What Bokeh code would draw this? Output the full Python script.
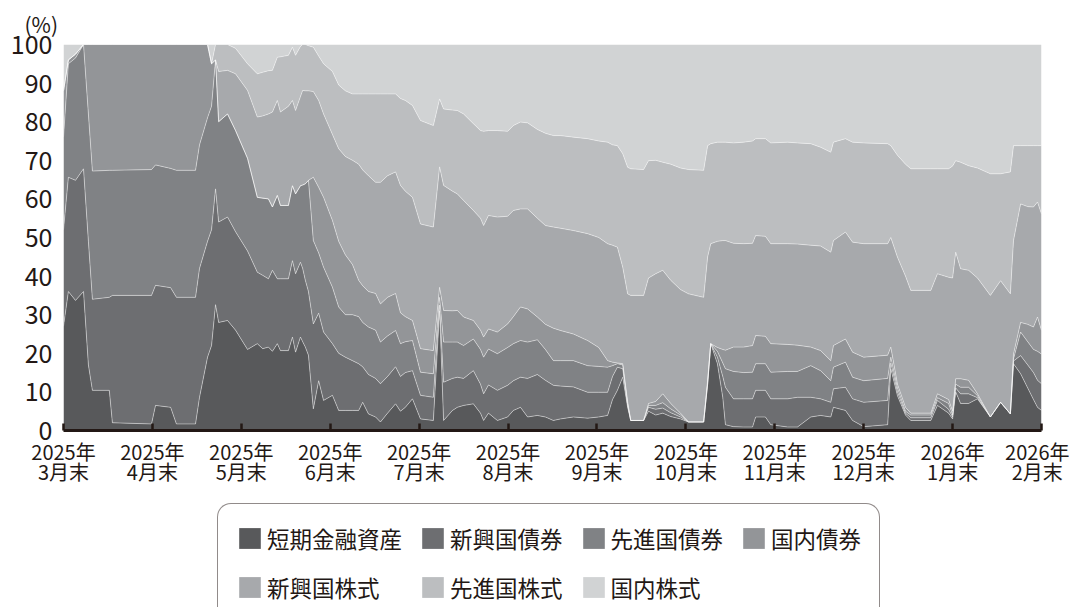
from bokeh.plotting import figure
from bokeh.models import ColumnDataSource, Range1d, FixedTicker, Legend, LegendItem
from bokeh.transform import stack
from bokeh.embed import file_html
from bokeh.resources import INLINE

# x position: trading-day style index, 20 units per month (0 = 2025年3月末, 220 = 2026年2月末)
pos = [0, 1.1, 2.7, 4.5, 5.6, 6.5, 10.3, 11.0, 19.8, 20.7,
       24.1, 25.4, 29.7, 30.6, 32.4, 33.3, 34.2, 34.9, 36.9, 38.7,
       41.4, 43.6, 44.8, 46.1, 47.0, 48.1, 48.8, 50.6, 51.5, 52.2,
       53.3, 53.8, 54.4, 55.1, 56.2, 57.4, 58.5, 60.5, 61.9, 63.4,
       65.0, 66.4, 67.3, 68.6, 70.2, 71.3, 72.9, 74.7, 75.8, 76.9,
       78.5, 80.3, 83.2, 84.6, 85.5, 87.5, 88.6, 90.0, 92.2, 93.8,
       94.5, 95.6, 97.6, 99.9, 101.2, 102.8, 104.4, 106.6, 108.4, 110.2,
       111.8, 114.7, 117.9, 120.4, 122.4, 123.5, 124.6, 125.8, 126.9, 127.6,
       130.5, 131.6, 133.2, 134.8, 136.6, 138.8, 140.6, 144.0, 144.9, 145.6,
       147.1, 148.3, 148.9, 150.7, 153.0, 155.0, 155.7, 157.9, 159.1, 162.9,
       165.1, 168.1, 170.3, 172.6, 173.2, 175.9, 177.5, 180.0, 185.4, 186.1,
       187.6, 189.4, 190.6, 195.1, 196.6, 199.1, 200.0, 200.7, 201.8, 203.6,
       205.6, 208.5, 210.8, 213.0, 213.7, 215.3, 216.9, 218.2, 219.1, 220.0]

short_term = [27, 36, 33.7, 36, 17, 10.4, 10.4, 2, 1.7, 6.5,
              6, 1.7, 1.7, 8.6, 19, 22, 32.6, 28, 28.5, 26,
              21, 22.5, 21.2, 21.6, 20.5, 22.5, 20.7, 20.7, 24.2, 20.3,
              24.2, 23, 21.6, 19.5, 5.6, 12.9, 7.8, 9.1, 5.2, 5.2,
              5.2, 5.2, 7.3, 4.3, 3.5, 2.2, 4.5, 6.9, 5, 6,
              8.2, 3, 2.6, 31, 2.6, 5.2, 6, 6.5, 6.9, 4.5,
              2.6, 4.5, 2.6, 3.5, 5.2, 6, 3.5, 3.9, 3.5, 2.6,
              3, 3.5, 3.2, 3.5, 3.9, 8, 10.4, 13.8, 6, 2.6,
              2.6, 5, 4, 4.5, 3.6, 3, 2.2, 2.2, 12, 22.5,
              17.3, 8.6, 1.5, 1, 0.9, 0.9, 3.5, 3.5, 1.5, 0.9,
              0.9, 3.5, 3.9, 3.5, 6, 5.2, 2.6, 1, 1.5, 16,
              9, 4, 2.6, 2.6, 6.5, 4.5, 3, 10, 7, 7,
              8.2, 3.5, 7.3, 4.3, 17.3, 14.7, 11, 8, 6, 5.2]

em_bond = [25, 29.6, 31.1, 31.8, 32, 23.6, 24.1, 33, 33.3, 31.1,
           31, 32.8, 32.8, 33.4, 30, 30, 30, 26, 26.8, 25.5,
           25.5, 18.5, 19, 17.7, 21, 16.8, 18.6, 18.6, 19.8, 20.3,
           19.4, 19, 17.3, 16.5, 22, 17.5, 17.7, 13.4, 14.8, 13.8,
           12.9, 12.1, 9.2, 10.2, 10, 9.9, 9.5, 9.6, 9, 9,
           7.3, 6.1, 6, 1.5, 9.9, 8.3, 7.8, 7, 8.6, 7.5,
           6.9, 7.3, 7.8, 8.2, 7.7, 7.8, 10, 10.6, 9.5, 9.1,
           8.5, 7.8, 6.7, 6.4, 6, 6, 6, 2.2, 0.5, 0,
           0, 1, 1.5, 1.3, 1, 0.5, 0, 0, 0, 0,
           1.7, 5.4, 9.7, 7.2, 7.3, 7.3, 6.9, 6.9, 6.7, 7.3,
           7.7, 5.1, 4.3, 3.8, 4.8, 6, 5.6, 6.3, 6.3, 1.5,
           1, 0.5, 0.7, 0.7, 1.3, 1, 0.5, 1, 2.5, 2.5,
           0.3, 0, 0, 0, 0.7, 4.7, 6, 7, 7, 6.9]

dev_bond = [24, 29.4, 31.7, 32.2, 33, 33.2, 32.9, 32.4, 32.6, 31.2,
            30.9, 32.9, 32.9, 32, 32, 32, 33.4, 26, 26.7, 26.2,
            24, 19.4, 20, 20.7, 16.4, 21.6, 19, 19, 19.4, 20.7,
            19.8, 21.6, 25, 28.8, 21.6, 15.6, 16.8, 14.6, 12, 11,
            11.9, 12.2, 11.5, 12.3, 12.5, 10.8, 10.5, 9.4, 8.5, 8,
            7.8, 6, 6.1, 2, 10.4, 9.4, 9.1, 8.5, 8.2, 9,
            9.5, 9.3, 9.5, 9.8, 9.6, 9.5, 9.4, 9, 8, 6.4,
            6.6, 6.8, 6.9, 6.7, 6.5, 2.8, 0.9, 1, 0.5, 0,
            0, 0.5, 1, 1.4, 1, 0.5, 0, 0, 0.5, 0,
            1.5, 3.5, 4.8, 7.1, 6.8, 6.9, 6.9, 6.9, 6.9, 7.1,
            6.7, 8.2, 7.3, 5.6, 5.6, 6.5, 5.6, 5.6, 5.7, 1.5,
            1, 0.5, 0.7, 0.7, 0.7, 1.5, 0.5, 1, 1.7, 1.7,
            0.5, 0, 0, 0, 0.5, 6.1, 6, 6, 7.5, 7.7]

dom_bond = [12, 1, 1, 0, 18, 32.8, 32.6, 32.6, 32.4, 31.2,
            32.1, 32.6, 32.6, 26, 19, 11, 0, 0, 0, 0,
            0, 0, 0, 0, 0, 0, 0, 0, 0, 0,
            0, 0, 0, 0, 16.4, 17, 18.1, 17.3, 17, 15.5,
            13, 9.4, 9.5, 9.2, 9.5, 9.9, 10, 9.6, 8, 6.5,
            5.2, 6.1, 6, 2.6, 8.2, 8.1, 8.2, 7.4, 4.8, 5,
            5.2, 5.2, 5.6, 6.1, 7, 8.7, 8.6, 5.9, 6.5, 8.4,
            7.8, 6.9, 6.5, 4.9, 1.7, 0.9, 0.2, 0.3, 0.5, 0,
            0, 0.5, 1, 2.3, 1.4, 0.5, 0, 0, 0.5, 0,
            1, 3.5, 4.8, 6.3, 6.6, 6.9, 7.3, 7.1, 7.4, 7,
            6.8, 4.8, 5.2, 5.2, 5.6, 6, 6.5, 6.1, 6, 2.6,
            1, 1, 0.5, 0.5, 1, 1, 1, 1.4, 2.2, 1.8,
            0.5, 0, 0, 0, 1.3, 2.5, 4.5, 5.8, 8.9, 6.1]

em_equity = [0, 0, 0, 0, 0, 0, 0, 0, 0, 0,
             0, 0, 0, 0, 0, 0, 0, 13, 11.3, 14.7,
             17.6, 20.8, 21.3, 22, 24.6, 24.6, 24.2, 25.7, 22.1, 21.6,
             23.1, 24.5, 24.1, 23.2, 22.2, 22.5, 21.6, 22.3, 24, 25.5,
             27, 30.1, 30, 30, 28.8, 31.5, 31.5, 31.5, 33, 32.5,
             31.9, 32.3, 32, 31.2, 32.4, 31, 30.2, 30.2, 28.5, 29,
             28.9, 29.4, 29.8, 27.9, 27.5, 25.4, 25.9, 25.6, 25.6, 26.2,
             26.5, 26.8, 27.7, 28.5, 30.3, 30.3, 30, 25, 27.9, 32.4,
             32.4, 32.5, 33.1, 32, 31.9, 32, 33.2, 32.3, 32, 25.9,
             27.5, 28.2, 28.4, 26.9, 26.8, 26.5, 25.9, 25.9, 25.9, 26.1,
             26.2, 26.4, 27.1, 28.1, 27.2, 27.7, 28.5, 29.4, 28.9, 28.4,
             32.9, 34, 31.8, 31.8, 31.1, 31.7, 34.5, 32.8, 28.5, 28.5,
             30, 31.5, 31.5, 31.1, 29.4, 30.7, 30.5, 31.1, 29.8, 30.2]

dev_equity = [0, 0, 0, 0, 0, 0, 0, 0, 0, 0,
              0, 0, 0, 0, 0, 0, 4, 7, 6.7, 6.6,
              6.9, 11.2, 11.3, 11.2, 10.8, 11.2, 14.3, 13.2, 13.8, 14.3,
              13, 11.9, 12, 11.7, 11.5, 11.5, 13, 16.3, 16.5, 17,
              17.2, 18.2, 19.7, 21.2, 22.9, 22.9, 21.2, 20.2, 22.5, 23.5,
              23.8, 26.8, 26.3, 17.6, 19.8, 21, 21.6, 22.4, 22.5, 22.7,
              24.4, 22, 22.4, 22, 22, 22.5, 22.3, 23, 23.9, 23.7,
              24, 24.2, 24.6, 25, 26.3, 26, 26.3, 29.4, 32.8, 32.8,
              32.6, 30.4, 29.4, 28, 30.1, 31.5, 32.2, 32.9, 28.8, 25.9,
              25.7, 25.5, 25.5, 26, 26.3, 26.5, 25.1, 25.3, 26.1, 26.3,
              26.2, 26.3, 25.6, 25.9, 25.5, 24.2, 25.9, 26.1, 25.9, 23.8,
              26.4, 29, 31.5, 31.5, 27.2, 28.1, 29, 23.7, 27.6, 27.1,
              28.5, 31.5, 27.7, 31.6, 24.6, 15.1, 15.8, 15.9, 14.6, 17.7]

dom_equity = [12, 4, 2.5, 0, 0, 0, 0, 0, 0, 0,
              0, 0, 0, 0, 0, 5, 0, 0, 0, 1,
              5, 7.6, 7.2, 6.8, 6.7, 3.3, 3.2, 2.8, 0.7, 2.8,
              0.5, 0, 0, 0.3, 0.7, 3, 5, 7, 10.5, 12,
              12.8, 12.8, 12.8, 12.8, 12.8, 12.8, 12.8, 12.8, 14, 14.5,
              15.8, 19.7, 21, 14.1, 16.7, 17, 17.1, 18, 20.5, 22.3,
              22.5, 22.3, 22.3, 22.5, 21, 20.1, 20.3, 22, 23, 23.6,
              23.6, 24, 24.4, 25, 25.3, 26, 26.2, 28.3, 31.8, 32.2,
              32.4, 30.1, 30, 30.5, 31, 32, 32.4, 32.6, 26.2, 25.7,
              25.3, 25.3, 25.3, 25.5, 25.3, 25, 24.4, 24.4, 25.5, 25.3,
              25.5, 25.7, 26.6, 27.9, 25.3, 24.4, 25.3, 25.5, 25.7, 26.2,
              28.7, 31, 32.2, 32.2, 32.2, 32.2, 31.5, 30.1, 30.5, 31.4,
              32, 33.5, 33.5, 33, 26.2, 26.2, 26.2, 26.2, 26.2, 26.2]

series_labels = ["短期金融資産", "新興国債券", "先進国債券", "国内債券",
                 "新興国株式", "先進国株式", "国内株式"]
tick_pos = [0, 20, 40, 60, 80, 100, 120, 140, 160, 180, 200, 220]
tick_labels = ["2025年\n3月末", "2025年\n4月末", "2025年\n5月末", "2025年\n6月末",
               "2025年\n7月末", "2025年\n8月末", "2025年\n9月末", "2025年\n10月末",
               "2025年\n11月末", "2025年\n12月末", "2026年\n1月末", "2026年\n2月末"]
y_ticks = [0, 10, 20, 30, 40, 50, 60, 70, 80, 90, 100]

keys = ["s1", "s2", "s3", "s4", "s5", "s6", "s7"]
colors = ["#58595b", "#6d6e71", "#808285", "#939598", "#a7a9ac", "#bcbec0", "#d1d3d4"]
FONT = "Noto Sans CJK JP"
TXT = "#231815"

src = ColumnDataSource(dict(x=pos, s1=short_term, s2=em_bond, s3=dev_bond, s4=dom_bond,
                            s5=em_equity, s6=dev_equity, s7=dom_equity))

# ---- main chart ----
p = figure(width=1069, height=500, x_range=Range1d(0, 220), y_range=Range1d(0, 100),
           output_backend="svg", toolbar_location=None,
           min_border_left=63, min_border_right=28, min_border_top=44, min_border_bottom=70)
p.outline_line_color = None
p.xgrid.visible = False
p.ygrid.visible = False
p.background_fill_color = "white"

p.title.text = "(%)"
p.title.align = "left"
p.title.offset = -39
p.title.standoff = 12
p.title.text_font = FONT
p.title.text_font_size = "21px"
p.title.text_font_style = "normal"
p.title.text_color = TXT

p.varea_stack(stackers=keys, x="x", color=colors, source=src)
for i in range(1, 7):
    p.line(x="x", y=stack(*keys[:i]), source=src, line_color="white",
           line_width=0.8, line_alpha=0.55)

xa = p.xaxis[0]
xa.ticker = FixedTicker(ticks=tick_pos)
xa.major_label_overrides = {t: l for t, l in zip(tick_pos, tick_labels)}
xa.axis_line_color = TXT
xa.axis_line_width = 3
xa.major_tick_line_color = TXT
xa.major_tick_line_width = 2.5
xa.major_tick_in = 7
xa.major_tick_out = 0
xa.minor_tick_line_color = None
xa.major_label_text_font = FONT
xa.major_label_text_font_size = "20px"
xa.major_label_text_color = TXT
xa.major_label_text_line_height = 0.7
xa.major_label_standoff = 6

ya = p.yaxis[0]
ya.ticker = FixedTicker(ticks=y_ticks)
ya.axis_line_color = None
ya.major_tick_line_color = None
ya.minor_tick_line_color = None
ya.major_label_text_font = FONT
ya.major_label_text_font_size = "25px"
ya.major_label_text_color = TXT
ya.major_label_standoff = 5

# ---- legend panel: its own canvas below the chart ----
lp = figure(width=1069, height=107, x_range=Range1d(0, 1), y_range=Range1d(0, 1),
            output_backend="svg", toolbar_location=None,
            x_axis_location=None, y_axis_location=None,
            min_border_left=217, min_border_right=0, min_border_top=3, min_border_bottom=0)
lp.outline_line_color = None
lp.xgrid.visible = False
lp.ygrid.visible = False

# legend-key renderers (zero-height areas: nothing visible is drawn)
key_renderers = [lp.varea(x=[0], y1=[0], y2=[0], fill_color=c) for c in colors]
items = [LegendItem(label=series_labels[i], renderers=[key_renderers[i]]) for i in range(7)]
legend = Legend(items=items, location="top_left", orientation="horizontal", ncols=4,
                label_text_font=FONT, label_text_font_size="22.5px", label_text_color=TXT,
                glyph_width=27, glyph_height=26, label_standoff=4,
                spacing=17, padding=18, margin=0,
                border_line_color=TXT, border_line_width=1.5,
                background_fill_color="white", background_fill_alpha=1.0)
try:
    legend.border_radius = 14
except Exception:
    pass
lp.add_layout(legend)

open("out.html", "w").write(file_html([p, lp], INLINE))
